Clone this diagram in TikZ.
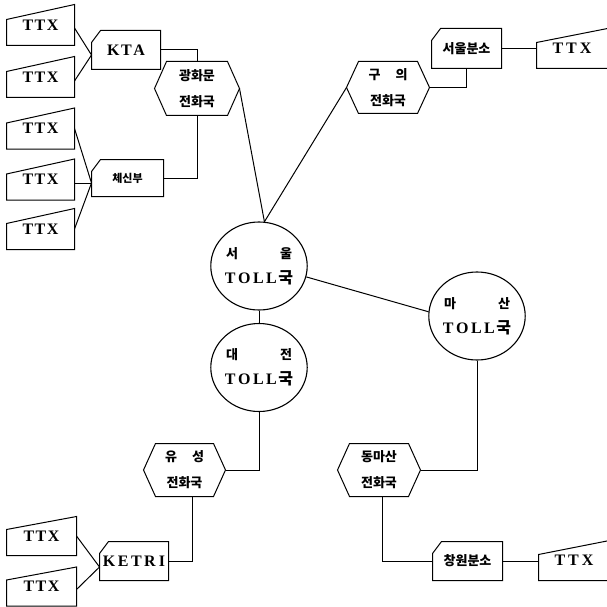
\documentclass[tikz,border=0pt]{standalone}
\usepackage{fontspec}
\setmainfont{Liberation Serif}
\newfontfamily\krfont{Noto Sans CJK KR}
\newcommand\kor[1]{{\krfont\bfseries #1}}
\newcommand\korsm[1]{{\krfont\bfseries\fontsize{13}{15}\selectfont #1}}
\usetikzlibrary{shapes.geometric}
\begin{document}
\begin{tikzpicture}[x=1pt,y=-1pt,line width=1pt,
  box/.style={rectangle, inner sep=0pt, draw=none},
  ttx/.style={box, minimum width=67pt, minimum height=40pt, font=\bfseries\fontsize{16}{18}\selectfont},
  cbox/.style={box, minimum width=68pt, minimum height=38pt, font=\bfseries\fontsize{16}{18}\selectfont},
  kbox/.style={cbox, font=\krfont\bfseries\fontsize{13}{15}\selectfont},
  hexa/.style={box, minimum width=82pt, minimum height=52pt, align=center, font=\krfont\bfseries\fontsize{13}{15}\selectfont},
  toll/.style={ellipse, draw, line width=1.1pt, minimum width=96pt, minimum height=88pt, inner sep=0pt, align=center, font=\bfseries\fontsize{16}{18}\selectfont},
  wire/.style={line width=1pt}]
\fill[white] (0,0) rectangle (606,607);
\useasboundingbox (0,0) rectangle (606,607);

% TTX terminals
\node[ttx] (t1) at (40.5,25) {T\kern1.5pt T\kern1.5pt X};
\node[ttx] (t2) at (40.5,77) {T\kern1.5pt T\kern1.5pt X};
\node[ttx] (t3) at (40.5,128.5) {T\kern1.5pt T\kern1.5pt X};
\node[ttx] (t4) at (40.5,179.5) {T\kern1.5pt T\kern1.5pt X};
\node[ttx] (t5) at (40.5,229) {T\kern1.5pt T\kern1.5pt X};
\node[ttx, minimum width=69pt, minimum height=38pt] (tb1) at (41.5,536) {T\kern1.5pt T\kern1.5pt X};
\node[ttx, minimum width=69pt, minimum height=38pt] (tb2) at (41.5,586.5) {T\kern1.5pt T\kern1.5pt X};
\node[ttx, minimum width=70pt, minimum height=39pt] (tr1) at (572,48.5) {T\kern3pt T\kern3pt X};
\node[ttx, minimum width=70pt, minimum height=39pt] (tr2) at (574,560.5) {T\kern3pt T\kern3pt X};

% chamfered boxes
\node[cbox] (kta) at (126,50) {K\kern1.5pt T\kern1.5pt A};
\node[kbox, minimum width=71pt, minimum height=36pt, font=\krfont\bfseries\fontsize{11}{13}\selectfont] (csb) at (127.5,178) {체신부};
\node[kbox, minimum width=69pt, minimum height=39pt] (sb) at (466.5,48.5) {서울분소};
\node[kbox, minimum width=69pt] (cw) at (467.5,561) {창원분소};
\node[cbox] (ke) at (134,561) {K\kern2.5pt E\kern2.5pt T\kern2.5pt R\kern3pt I};

% hexagons
\node[hexa, minimum width=84pt, minimum height=53pt] (gw) at (197,88.5) {광화문\\[11pt]전화국};
\node[hexa, minimum height=51pt] (gu) at (388,87.5) {\makebox[39pt][s]{구\hfill 의}\\[11pt]전화국};
\node[hexa, minimum width=81pt] (ys) at (184.5,470) {\makebox[39pt][s]{유\hfill 성}\\[11pt]전화국};
\node[hexa] (dm) at (379,470) {동마산\\[11pt]전화국};

% TOLL offices
\node[toll] (seoul) at (259,266) {\makebox[66pt][s]{\korsm{서}\hfill\korsm{울}}\\[7pt]T\kern2.5pt O\kern2.5pt L\kern2.5pt L\kern1.5pt\kor{국}};
\node[toll] (daejeon) at (259,367.5) {\makebox[66pt][s]{\korsm{대}\hfill\korsm{전}}\\[7pt]T\kern2.5pt O\kern2.5pt L\kern2.5pt L\kern1.5pt\kor{국}};
\node[toll] (masan) at (477,316) {\makebox[66pt][s]{\korsm{마}\hfill\korsm{산}}\\[7pt]T\kern2.5pt O\kern2.5pt L\kern2.5pt L\kern1.5pt\kor{국}};

% outlines
\foreach \n in {t1,t2,t3,t4,t5,tb1,tb2,tr1,tr2}
  \draw (\n.south west) -- ([yshift=26pt]\n.south west) -- (\n.north east) -- (\n.south east) -- cycle;
\foreach \n in {kta,csb,sb,cw,ke}
  \draw (\n.south west) -- ([yshift=-12pt]\n.north west) -- ([xshift=9pt]\n.north west) -- (\n.north east) -- (\n.south east) -- cycle;
\foreach \n in {gw,gu,ys,dm}
  \draw (\n.west) -- ([xshift=12pt]\n.north west) -- ([xshift=-12pt]\n.north east) -- (\n.east) -- ([xshift=-12pt]\n.south east) -- ([xshift=12pt]\n.south west) -- cycle;

% connectors
\coordinate (ktain) at ([yshift=-5pt]kta.west);
\coordinate (csin) at ([yshift=-5pt]csb.west);
\coordinate (kein) at ([yshift=-6pt]ke.west);
\coordinate (stop) at (seoul.83);
\draw[wire] ([yshift=-3pt]t1.east) -- (ktain);
\draw[wire] ([yshift=-4pt]t2.east) -- (ktain);
\draw[wire] (t3.east) -- (csin);
\draw[wire] (csin -| t4.east) -- (csin);
\draw[wire] (t5.east) -- (csin);
\draw[wire] (kta.east) -| (gw.north);
\draw[wire] (csb.east) -| (gw.south);
\draw[wire] (gw.east) -- (stop);
\draw[wire] (gu.west) -- (stop);
\draw[wire] (gu.east) -| (sb.south);
\draw[wire] (sb.east) -- (sb.east -| tr1.west);
\draw[wire] (seoul.south) -- (daejeon.north);
\draw[wire] (seoul.-13) -- (masan.175);
\draw[wire] (daejeon.south) |- (ys.east);
\draw[wire] ([xshift=7.5pt]ys.south) |- (ke.east);
\draw[wire] (tb1.east) -- (kein);
\draw[wire] ([yshift=-3pt]tb2.east) -- (kein);
\draw[wire] (masan.south) |- (dm.east);
\draw[wire] ([xshift=3pt]dm.south) |- (cw.west);
\draw[wire] (cw.east) -- (cw.east -| tr2.west);
\end{tikzpicture}
\end{document}
